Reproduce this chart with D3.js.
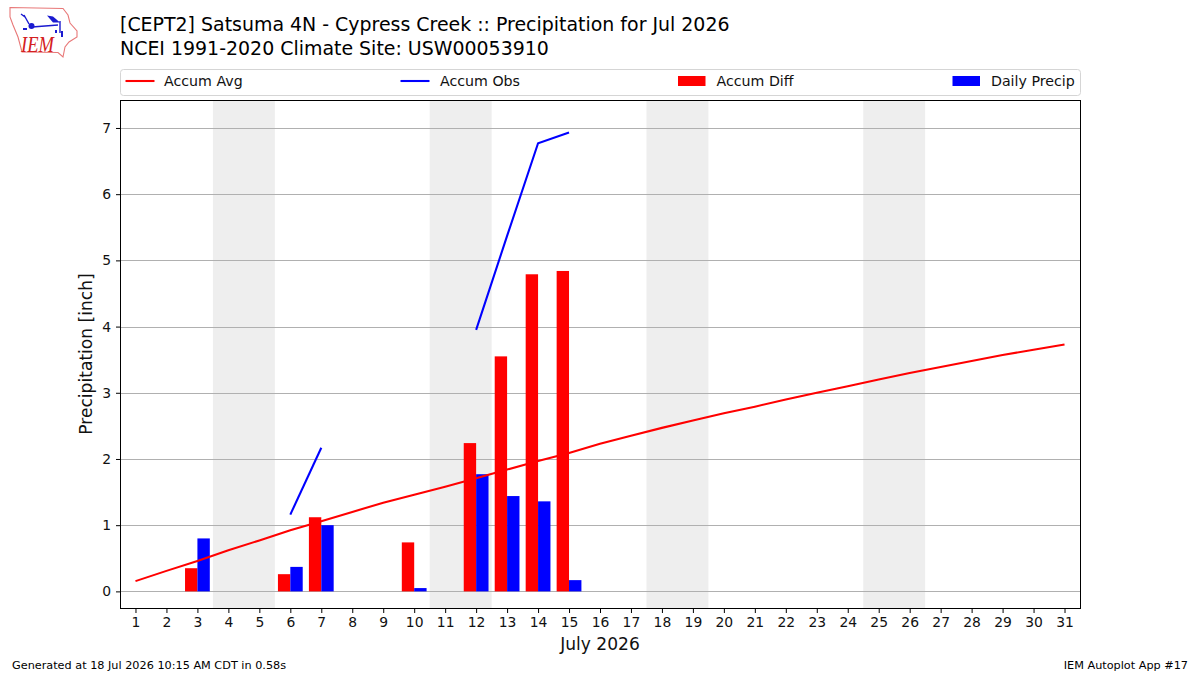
<!DOCTYPE html>
<html>
<head>
<meta charset="utf-8">
<style>
html, body { margin: 0; padding: 0; background: #fff; }
svg { display: block; font-family: "DejaVu Sans", sans-serif; }
</style>
<script src="https://cdn.jsdelivr.net/npm/d3@7"></script>
</head>
<body>
<svg id="chart" width="1200" height="675"></svg>
<script>
// Daily climatology and observations for July 2026, in inches
const days = d3.range(1, 32);
const accumAvg = [0.155, 0.31, 0.46, 0.62, 0.77, 0.925, 1.06, 1.20, 1.34, 1.46, 1.58, 1.71, 1.84, 1.97, 2.09, 2.23,
  2.35, 2.47, 2.58, 2.69, 2.79, 2.90, 3.00, 3.10, 3.20, 3.30, 3.39, 3.48, 3.57, 3.65, 3.73];
const obsDays = [6, 7, 12, 13, 14, 15];
const accumObs = [1.16, 2.17, 3.95, 5.37, 6.77, 6.93];
const barDays = [3, 6, 7, 10, 12, 13, 14, 15];
const accumDiff = [0.35, 0.26, 1.12, 0.74, 2.24, 3.55, 4.79, 4.84];
const dailyPrecip = [0.80, 0.37, 1.00, 0.05, 1.77, 1.44, 1.36, 0.17];
const weekendStarts = [4, 11, 18, 25];
const yTicks = [0, 1, 2, 3, 4, 5, 6, 7];

const svg = d3.select("#chart");
const frame = { left: 120.5, right: 1080.5, top: 100.5, bottom: 608.5 };
const x = d3.scaleLinear().domain([0.5, 31.5]).range([120, 1080]);
const y = d3.scaleLinear().domain([-0.2585, 7.415]).range([frame.bottom, frame.top]);
const barWidth = 0.4;
const RED = "#ff0000", BLUE = "#0000ff", INK = "#111";

// Weekend shading
svg.append("g").selectAll("rect").data(weekendStarts).join("rect")
  .attr("x", d => x(d - 0.5)).attr("width", d => x(d + 1.5) - x(d - 0.5))
  .attr("y", frame.top).attr("height", frame.bottom - frame.top)
  .attr("fill", "#eeeeee");

// Horizontal grid
svg.append("g").selectAll("line").data(yTicks).join("line")
  .attr("x1", frame.left).attr("x2", frame.right)
  .attr("y1", d => Math.round(y(d)) + 0.5).attr("y2", d => Math.round(y(d)) + 0.5)
  .attr("stroke", "#b0b0b0").attr("stroke-width", 1);

// Bars: departure left of the day tick, daily total right of it
svg.append("g").selectAll("rect").data(barDays).join("rect")
  .attr("x", d => x(d - barWidth)).attr("width", x(barWidth) - x(0))
  .attr("y", (d, i) => y(accumDiff[i])).attr("height", (d, i) => y(0) - y(accumDiff[i]))
  .attr("fill", RED);
svg.append("g").selectAll("rect").data(barDays).join("rect")
  .attr("x", d => x(d)).attr("width", x(barWidth) - x(0))
  .attr("y", (d, i) => y(dailyPrecip[i])).attr("height", (d, i) => y(0) - y(dailyPrecip[i]))
  .attr("fill", BLUE);

// Accumulation lines
const line = d3.line().x(d => x(d[0])).y(d => y(d[1]));
svg.append("path").datum(days.map((d, i) => [d, accumAvg[i]])).attr("d", line)
  .attr("fill", "none").attr("stroke", RED).attr("stroke-width", 2.08);
const obsPairs = obsDays.map((d, i) => [d, accumObs[i]]);
[obsPairs.slice(0, 2), obsPairs.slice(2)].forEach(run => {
  svg.append("path").datum(run).attr("d", line)
    .attr("fill", "none").attr("stroke", BLUE).attr("stroke-width", 2.08);
});

// Axes
const xAxis = d3.axisBottom(x).tickValues(days).tickFormat(d3.format("d")).tickSize(4.5).tickPadding(4);
const yAxis = d3.axisLeft(y).tickValues(yTicks).tickFormat(d3.format("d")).tickSize(4.5).tickPadding(5);
const gx = svg.append("g").attr("transform", `translate(0,${frame.bottom})`).call(xAxis);
const gy = svg.append("g").attr("transform", `translate(${frame.left},0)`).call(yAxis);
[gx, gy].forEach(g => {
  g.select(".domain").remove();
  g.selectAll("line").attr("stroke", "#000").attr("stroke-width", 1);
  g.selectAll("text").attr("fill", INK).style("font-size", "13.9px").style("font-family", "DejaVu Sans");
});
svg.append("rect").attr("x", frame.left).attr("y", frame.top)
  .attr("width", frame.right - frame.left).attr("height", frame.bottom - frame.top)
  .attr("fill", "none").attr("stroke", "#000").attr("stroke-width", 1);

// Axis titles
svg.append("text").attr("x", 600).attr("y", 649.5).attr("text-anchor", "middle")
  .attr("fill", INK).style("font-size", "17.1px").text("July 2026");
svg.append("text").attr("transform", "translate(92,354) rotate(-90)").attr("text-anchor", "middle")
  .attr("fill", INK).style("font-size", "17.1px").text("Precipitation [inch]");

// Chart title
svg.append("text").attr("x", 120).attr("y", 31).attr("fill", "#000").style("font-size", "18.95px")
  .text("[CEPT2] Satsuma 4N - Cypress Creek :: Precipitation for Jul 2026");
svg.append("text").attr("x", 120).attr("y", 54.5).attr("fill", "#000").style("font-size", "18.95px")
  .text("NCEI 1991-2020 Climate Site: USW00053910");

// Legend
svg.append("rect").attr("x", 120.5).attr("y", 69.5).attr("width", 960).attr("height", 26).attr("rx", 3)
  .attr("fill", "#fff").attr("stroke", "#d5d5d5").attr("stroke-width", 1);
const legendNames = ["Accum Avg", "Accum Obs", "Accum Diff", "Daily Precip"];
const legendColors = [RED, BLUE, RED, BLUE];
const legendKinds = ["line", "line", "patch", "patch"];
const legendStarts = [125.5, 400.5, 678, 952.5];
const legendTextGap = [38.5, 39.5, 38.5, 38.5];
const legendItems = svg.append("g").selectAll("g").data(legendNames).join("g")
  .attr("transform", (d, i) => `translate(${legendStarts[i]},0)`);
legendItems.each(function (d, i) {
  const g = d3.select(this);
  if (legendKinds[i] === "line") {
    g.append("line").attr("x1", 0).attr("x2", 29).attr("y1", 81).attr("y2", 81)
      .attr("stroke", legendColors[i]).attr("stroke-width", 2.08);
  } else {
    g.append("rect").attr("x", 0).attr("y", 76).attr("width", 27.5).attr("height", 10)
      .attr("fill", legendColors[i]);
  }
  g.append("text").attr("x", legendTextGap[i]).attr("y", 86).attr("fill", INK).style("font-size", "14.2px").text(d);
});

// Footer notes
svg.append("text").attr("x", 12).attr("y", 669).attr("fill", "#000").style("font-size", "11.25px")
  .text("Generated at 18 Jul 2026 10:15 AM CDT in 0.58s");
svg.append("text").attr("x", 1188).attr("y", 669).attr("text-anchor", "end").attr("fill", "#000")
  .style("font-size", "11.25px").text("IEM Autoplot App #17");

// Logo: state outline with a weather station and the IEM wordmark
const logo = svg.append("g");
logo.append("path")
  .attr("d", "M10,7.5 L63,8.5 L68,15 L70,23 L77,31 L77,37 L69,42 L65,47 L63,57 L58,52.5 L22,52 L18,37 L13,25 L10,17 Z")
  .attr("fill", "#fff").attr("stroke", "#e87878").attr("stroke-width", 1.1);
const logoBlue = "#1a1ad0";
logo.append("path").attr("d", "M32,27 L58,25 M60,21 L60,33 M24,15 L29,24 M21,14 L25,17")
  .attr("fill", "none").attr("stroke", logoBlue).attr("stroke-width", 1.4);
logo.append("circle").attr("cx", 31.5).attr("cy", 26).attr("r", 3).attr("fill", logoBlue);
logo.append("path").attr("d", "M47,15.5 L53,16.5 L60,22.5 L53,22.5 Z").attr("fill", logoBlue);
logo.append("path").attr("d", "M55,30 L57,30 L57,33 L55,33 Z M61,31 L63,31 L63,37 L61,37 Z M23,28 L27,28 L27,30 L23,30 Z")
  .attr("fill", logoBlue);
logo.append("text").attr("transform", "translate(21,52) scale(1,1.25)").attr("fill", "#d42020")
  .style("font-family", "Liberation Serif").style("font-style", "italic").style("font-size", "18.5px").text("IEM");
</script>
</body>
</html>
